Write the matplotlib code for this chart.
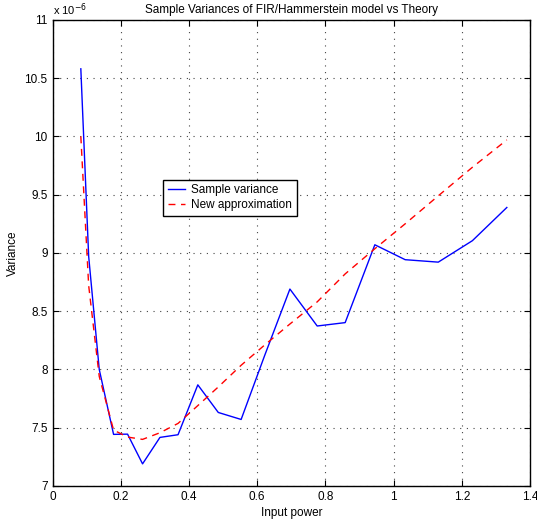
import matplotlib
matplotlib.use("Agg")
import matplotlib.pyplot as plt

# input power (x) and variances in units of 1e-6
power = [0.083, 0.106, 0.137, 0.179, 0.220, 0.264, 0.315, 0.368, 0.426, 0.486,
         0.553, 0.622, 0.696, 0.776, 0.858, 0.945, 1.034, 1.131, 1.231, 1.332]
sample_var = [10.58, 8.97, 8.00, 7.443, 7.445, 7.19, 7.417, 7.44, 7.868, 7.631,
              7.571, 8.12, 8.69, 8.373, 8.402, 9.07, 8.942, 8.921, 9.105, 9.39]
approx_var = [10.0, 8.72, 7.94, 7.48, 7.42, 7.40, 7.457, 7.537, 7.69, 7.85,
              8.036, 8.21, 8.39, 8.58, 8.82, 9.036, 9.25, 9.49, 9.735, 9.97]

plt.rcParams['font.family'] = ['Liberation Sans', 'DejaVu Sans']

fig = plt.figure(figsize=(5.37, 5.27), dpi=100)
ax = fig.add_axes([0.0978, 0.0778, 0.8892, 0.8845])

ax.plot(power, sample_var, color='#0000ff', lw=1.0, label='Sample variance')
ax.plot(power, approx_var, color='#ff0000', lw=1.0, ls=(0, (5, 4)),
        label='New approximation')

ax.set_xlim(0, 1.4)
ax.set_ylim(7, 11)
ax.set_xticks([0, 0.2, 0.4, 0.6, 0.8, 1, 1.2, 1.4])
ax.set_xticklabels(['0', '0.2', '0.4', '0.6', '0.8', '1', '1.2', '1.4'])
ax.set_yticks([7, 7.5, 8, 8.5, 9, 9.5, 10, 10.5, 11])
ax.set_yticklabels(['7', '7.5', '8', '8.5', '9', '9.5', '10', '10.5', '11'])
ax.tick_params(direction='in', top=True, right=True, labelsize=8.5, length=4)
ax.grid(True, ls=(0, (1, 5)), color='#444444', lw=0.8)
for s in ax.spines.values():
    s.set_linewidth(1.0)

ax.set_title('Sample Variances of FIR/Hammerstein model vs Theory', fontsize=8.5, pad=5)
ax.set_xlabel('Input power', fontsize=8.5, labelpad=3)
ax.set_ylabel('Variance', fontsize=8.5, labelpad=4)
ax.text(0.0, 1.004, r'x 10$^{-6}$', transform=ax.transAxes, fontsize=8,
        ha='left', va='bottom')

leg = ax.legend(loc='upper left', bbox_to_anchor=(0.231, 0.657), borderaxespad=0,
                fancybox=False, framealpha=1, edgecolor='black', fontsize=8.5,
                handlelength=1.5, handletextpad=0.5, borderpad=0.4,
                labelspacing=0.2)
leg.get_frame().set_linewidth(1.0)

fig.savefig('out.png', dpi=100)
